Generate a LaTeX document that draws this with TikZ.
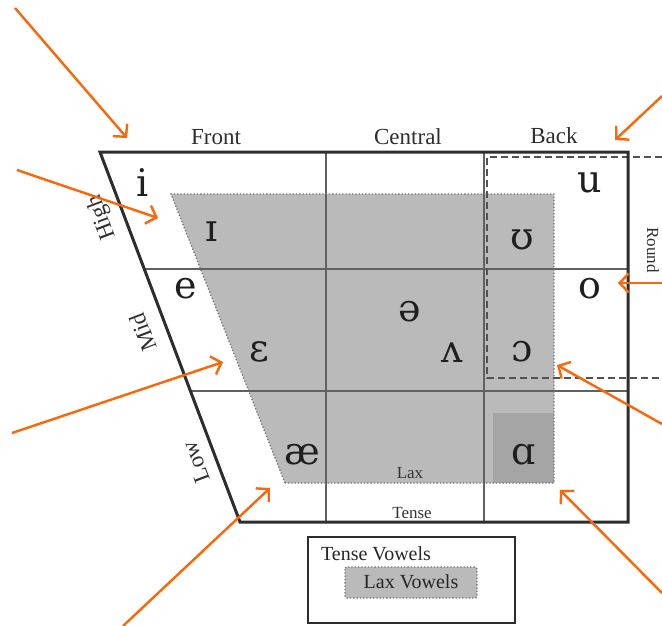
\documentclass[tikz,border=0pt]{standalone}
\usepackage{fontspec}
\setmainfont{Liberation Serif}
\newfontfamily\ipafont{DejaVu Serif}
\usetikzlibrary{arrows.meta}

\definecolor{pointerorange}{RGB}{252,102,8}
\definecolor{inkgray}{RGB}{45,45,45}
\definecolor{laxgray}{RGB}{186,186,186}
\definecolor{lowgray}{RGB}{165,165,165}

\tikzset{
  frame/.style={draw=inkgray, line width=3pt, line join=miter},
  gridline/.style={draw=black!62, line width=1.2pt},
  roundline/.style={draw=black!68, line width=2pt, dash pattern=on 7pt off 4pt},
  laxedge/.style={draw=black!55, line width=1.3pt, dotted},
  pointer/.style={draw=pointerorange, line width=2.4pt,
    -{Straight Barb[length=9pt,width=19pt,line width=2.4pt]}},
  vowel/.style={font=\ipafont\fontsize{38}{40}\selectfont, text=black!88, inner sep=0pt},
  axis/.style={font=\fontsize{23}{25}\selectfont, text=black!82, inner sep=0pt},
  height/.style={axis, rotate=110.7},
  small/.style={font=\fontsize{17}{19}\selectfont, text=black!80, inner sep=0pt},
  legendtext/.style={font=\fontsize{20}{22}\selectfont, text=black!85, inner sep=0pt},
}

\begin{document}
\begin{tikzpicture}[x=1pt,y=-1pt]
  \useasboundingbox (0,0) rectangle (662,626);
  \fill[white] (0,0) rectangle (662,626);

  % lax vowel region
  \fill[laxgray] (171,194) -- (554,194) -- (554,483) -- (285,483) -- cycle;
  \fill[lowgray] (493,413) rectangle (554,483);

  % grid of the vowel space
  \draw[gridline] (144,269) -- (628,269);
  \draw[gridline] (191,391) -- (628,391);
  \draw[gridline] (326,152) -- (326,522);
  \draw[gridline] (484,152) -- (484,522);

  % dotted outline of the lax region
  \draw[laxedge] (285,483) -- (171,194) -- (554,194) -- (554,483) -- (285,483);

  % rounded vowels
  \draw[roundline] (662,157) -- (487,157) -- (487,378) -- (662,378);

  % outer trapezoid
  \draw[frame] (100,152) -- (628,152) -- (628,522) -- (240,522) -- cycle;

  % column and row labels
  \node[axis] (front) at (216,137) {Front};
  \node[axis] (central) at (408,137) {Central};
  \node[axis] (back) at (554,136) {Back};
  \node[height] (high) at (102,217) {High};
  \node[height] (mid) at (143,332) {Mid};
  \node[height] (low) at (196,462) {Low};
  \node[axis, rotate=-90, font=\fontsize{17}{19}\selectfont] (round) at (653,250) {Round};
  \node[small] (lax) at (410,473) {Lax};
  \node[small] (tense) at (412,513) {Tense};

  % vowels
  \node[vowel] (vi) at (143,183) {i};
  \node[vowel] (vI) at (212,232) {ɪ};
  \node[vowel] (vu) at (590,183) {u};
  \node[vowel] (vU) at (522,240) {ʊ};
  \node[vowel] (ve) at (186,289) {e};
  \node[vowel] (vo) at (590,289) {o};
  \node[vowel] (vschwa) at (410,312) {ə};
  \node[vowel] (veps) at (259,352) {ɛ};
  \node[vowel] (vwedge) at (452,353) {ʌ};
  \node[vowel] (vopen) at (522,352) {ɔ};
  \node[vowel] (vae) at (302,455) {æ};
  \node[vowel] (valpha) at (524,455) {ɑ};

  % legend
  \draw[draw=inkgray, line width=2.8pt] (308,537) rectangle (515,623);
  \node[legendtext] (tenseleg) at (376,554) {Tense Vowels};
  \draw[laxedge, fill=laxgray, rounded corners=2pt] (345,567) rectangle (477,598);
  \node[legendtext] (laxleg) at (411,582) {Lax Vowels};

  % pointers
  \coordinate (p1s) at (15,8);    \coordinate (p1e) at (127,138);
  \coordinate (p2s) at (17,170);  \coordinate (p2e) at (158,218);
  \coordinate (p3s) at (12,433);  \coordinate (p3e) at (223,362);
  \coordinate (p4s) at (123,626); \coordinate (p4e) at (270,488);
  \coordinate (p5s) at (662,96);  \coordinate (p5e) at (615,140);
  \coordinate (p6s) at (662,283); \coordinate (p6e) at (618,283);
  \coordinate (p7s) at (662,424); \coordinate (p7e) at (557,365);
  \coordinate (p8s) at (662,593); \coordinate (p8e) at (560,490);
  \foreach \k in {1,...,8} \draw[pointer] (p\k s) -- (p\k e);
\end{tikzpicture}
\end{document}
